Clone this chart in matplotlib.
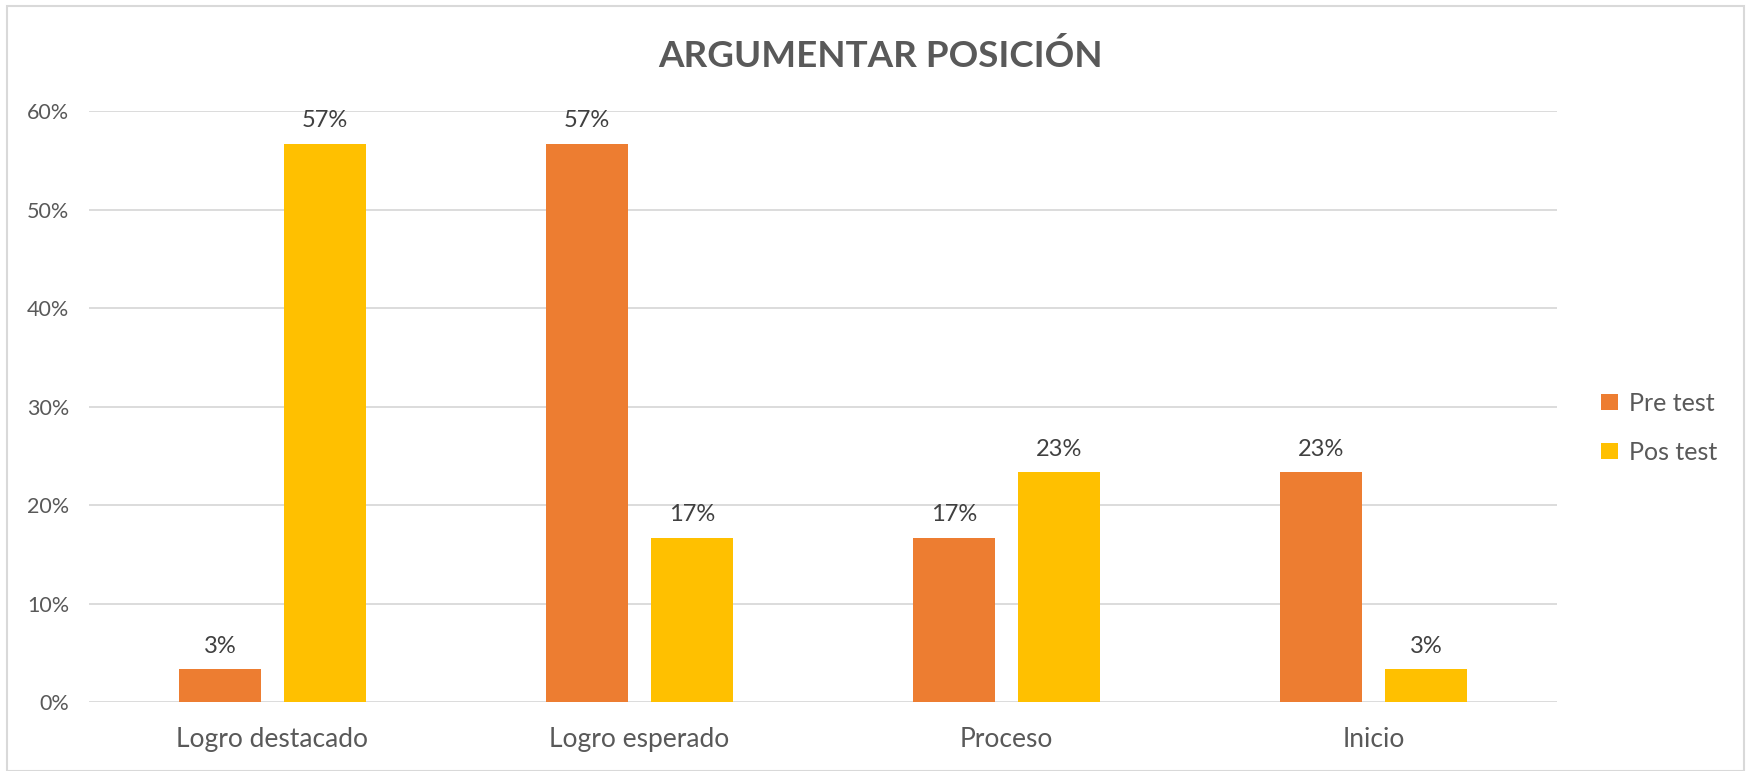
import numpy as np
import matplotlib.pyplot as plt
from matplotlib.patches import Rectangle

# data
categories = ["Logro destacado", "Logro esperado", "Proceso", "Inicio"]
pre_test = [0.0333, 0.5667, 0.1667, 0.2333]
pos_test = [0.5667, 0.1667, 0.2333, 0.0333]
pre_labels = ["3%", "57%", "17%", "23%"]
pos_labels = ["57%", "17%", "23%", "3%"]
y_ticks = [0.0, 0.1, 0.2, 0.3, 0.4, 0.5, 0.6]
y_tick_labels = ["0%", "10%", "20%", "30%", "40%", "50%", "60%"]

plt.rcParams['font.family'] = ['Lato', 'DejaVu Sans']

fig = plt.figure(figsize=(17.47, 7.71), dpi=100)
ax = fig.add_axes([0.0509, 0.0895, 0.8403, 0.7665])

x = np.arange(len(categories))
width = 0.2235
off = 0.143
bars_pre = ax.bar(x - off, pre_test, width, color="#ED7D31", label="Pre test", zorder=3)
bars_pos = ax.bar(x + off, pos_test, width, color="#FFC000", label="Pos test", zorder=3)

for b, t in zip(bars_pre, pre_labels):
    ax.annotate(t, (b.get_x() + b.get_width() / 2, b.get_height()), xytext=(0, 9),
                textcoords="offset points", ha="center", va="bottom", fontsize=17, color="#404040")
for b, t in zip(bars_pos, pos_labels):
    ax.annotate(t, (b.get_x() + b.get_width() / 2, b.get_height()), xytext=(0, 9),
                textcoords="offset points", ha="center", va="bottom", fontsize=17, color="#404040")

ax.set_xlim(-0.5, len(categories) - 0.5)
ax.set_ylim(0, 0.6)
ax.set_yticks(y_ticks)
ax.set_yticklabels(y_tick_labels, fontsize=15.5, color="#595959")
ax.set_xticks(x)
ax.set_xticklabels(categories, fontsize=19, color="#595959")
ax.tick_params(axis="both", length=0)
ax.tick_params(axis="y", pad=14)
ax.tick_params(axis="x", pad=18)
ax.yaxis.grid(True, color="#D9D9D9", linewidth=1.3, zorder=0)
for s in ax.spines.values():
    s.set_visible(False)

fig.text(0.504, 0.927, "ARGUMENTAR POSICIÓN", ha="center", va="center",
         fontsize=26.5, fontweight="bold", color="#595959")

ax.legend(loc="center left", bbox_to_anchor=(1.015, 0.464), frameon=False, fontsize=18,
          labelcolor="#595959", handlelength=0.65, handleheight=0.65, handletextpad=0.45,
          labelspacing=1.05)

fig.patches.append(Rectangle((0.004, 0.0), 0.994, 0.992, transform=fig.transFigure,
                             fill=False, edgecolor="#D9D9D9", linewidth=1.5))

plt.savefig("out.png", dpi=100)
